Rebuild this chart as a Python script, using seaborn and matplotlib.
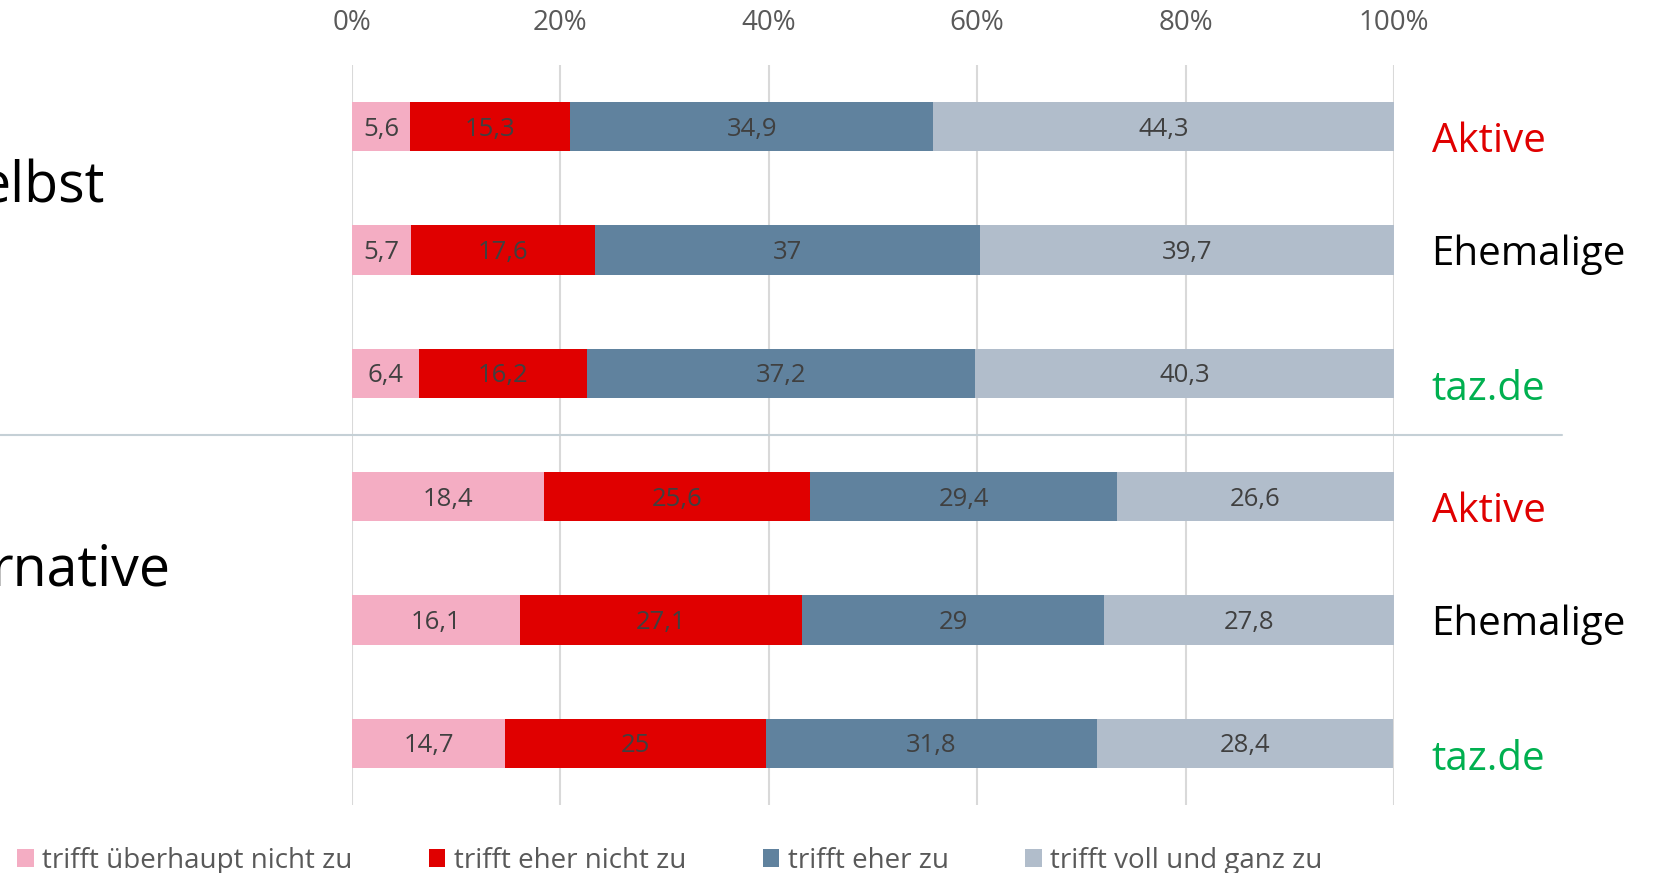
import pandas as pd
import numpy as np
import matplotlib.pyplot as plt
import matplotlib.transforms as mtransforms
from matplotlib.patches import Patch
import seaborn as sns

# data (percent)
categories = ["trifft überhaupt nicht zu", "trifft eher nicht zu",
              "trifft eher zu", "trifft voll und ganz zu"]
row_keys = ["selbst_aktive", "selbst_ehemalige", "selbst_taz",
            "alt_aktive", "alt_ehemalige", "alt_taz"]
row_labels = ["Aktive", "Ehemalige", "taz.de", "Aktive", "Ehemalige", "taz.de"]
gar_nicht = [5.6, 5.7, 6.4, 18.4, 16.1, 14.7]
eher_nicht = [15.3, 17.6, 16.2, 25.6, 27.1, 25.0]
eher_zu = [34.9, 37.0, 37.2, 29.4, 29.0, 31.8]
voll_zu = [44.3, 39.7, 40.3, 26.6, 27.8, 28.4]
group_labels = ["elbst", "rnative"]

colors = ["#F4ADC3", "#E00000", "#60829E", "#B1BDCB"]
label_colors = {"Aktive": "#E00000", "Ehemalige": "#000000", "taz.de": "#00B050"}
label_dy = {"Aktive": 0.12, "Ehemalige": 0.04, "taz.de": 0.13}

df = pd.DataFrame({"row": row_keys, categories[0]: gar_nicht, categories[1]: eher_nicht,
                   categories[2]: eher_zu, categories[3]: voll_zu})
cum = df[categories].cumsum(axis=1)

sns.set_style("white")
plt.rcParams["font.family"] = ["Open Sans", "DejaVu Sans"]

W, H = 1657, 873
fig = plt.figure(figsize=(W / 100, H / 100), dpi=100)
ax = fig.add_axes([352 / W, 1 - 805 / H, 1042 / W, 740 / H])

# stacked bars: draw cumulative totals from the outermost layer inwards
for cat, col in zip(reversed(categories), reversed(colors)):
    sns.barplot(x=cum[cat], y=df["row"], order=row_keys, orient="h", color=col,
                saturation=1, width=0.4, linewidth=0, ax=ax)

# segment value labels
for i, key in enumerate(row_keys):
    left = 0
    for cat in categories:
        v = df.loc[i, cat]
        ax.text(left + v / 2, i + 0.02, f"{v:g}".replace(".", ","), ha="center", va="center",
                fontsize=18.5, color="#404040")
        left += v

ax.set_xlim(0, 100)
ax.set_ylim(5.5, -0.5)
ax.set_xticks(np.arange(0, 101, 20))
ax.set_xticklabels([f"{t}%" for t in range(0, 101, 20)])
ax.xaxis.tick_top()
ax.tick_params(axis="x", length=0, pad=20, labelsize=20, labelcolor="#595959")
ax.set_yticks([])
ax.set_xlabel("")
ax.set_ylabel("")
ax.grid(axis="x", color="#D9D9D9", linewidth=1.5)
ax.set_axisbelow(True)
for s in ax.spines.values():
    s.set_visible(False)

# row labels on the right
rt = mtransforms.blended_transform_factory(ax.transAxes, ax.transData)
for i, lab in enumerate(row_labels):
    ax.text(1.036, i + label_dy[lab], lab, transform=rt,
            ha="left", va="center", fontsize=29, color=label_colors[lab])

# group labels on the left (cut off at the figure edge, as in the source)
lt = mtransforms.blended_transform_factory(fig.transFigure, ax.transData)
ax.text(-0.012, 0.5, group_labels[0], transform=lt,
        ha="left", va="center", fontsize=40, color="black")
ax.text(-0.006, 3.6, group_labels[1], transform=lt,
        ha="left", va="center", fontsize=40, color="black")

# separator between the two groups
ax.plot([0, 1562 / W], [2.5, 2.5], transform=lt, color="#C5D0D6", linewidth=1.5, clip_on=False)

handles = [Patch(facecolor=c, edgecolor="none") for c in colors]
fig.legend(handles, categories, loc="center left", bbox_to_anchor=(17 / W, 1 - 861 / H),
           ncol=4, frameon=False, fontsize=20, labelcolor="#595959",
           handlelength=0.6, handleheight=0.6, handletextpad=0.3, columnspacing=2.75,
           borderaxespad=0, borderpad=0)

fig.savefig("out.png", dpi=100)
